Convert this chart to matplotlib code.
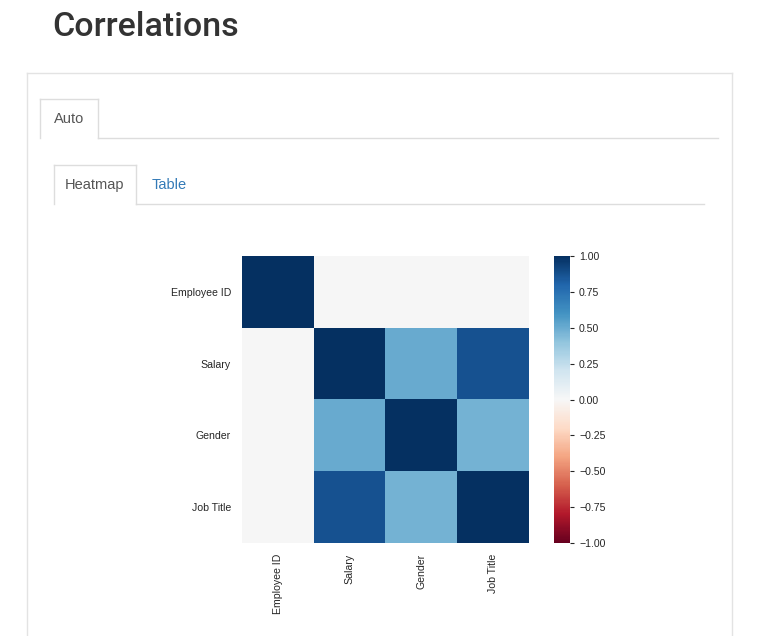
import matplotlib.pyplot as plt
from matplotlib.patches import Rectangle
from matplotlib.lines import Line2D
import numpy as np

labels = ["Employee ID", "Salary", "Gender", "Job Title"]
corr = np.array([
    [1.00, 0.00, 0.00, 0.00],
    [0.00, 1.00, 0.50, 0.87],
    [0.00, 0.50, 1.00, 0.47],
    [0.00, 0.87, 0.47, 1.00],
])
cbar_ticks = [1.00, 0.75, 0.50, 0.25, 0.00, -0.25, -0.50, -0.75, -1.00]

W, H = 768, 636
plt.rcParams['font.family'] = ['Liberation Sans', 'DejaVu Sans']
fig = plt.figure(figsize=(W / 100, H / 100), dpi=100)


def fx(x):
    return x / W


def fy(y):
    return 1 - y / H


def hline(x0, x1, y, color="#dddddd"):
    fig.add_artist(Line2D([fx(x0), fx(x1)], [fy(y), fy(y)], transform=fig.transFigure,
                          color=color, lw=1.0))


def vline(x, y0, y1, color="#dddddd"):
    fig.add_artist(Line2D([fx(x), fx(x)], [fy(y0), fy(y1)], transform=fig.transFigure,
                          color=color, lw=1.0))


# page chrome
fig.text(fx(52), fy(27), "Correlations", fontsize=24.5, color="#333333", va="center",
         ha="left", family=["Roboto", "DejaVu Sans"], fontweight="medium")

# outer card
hline(27, 732, 73, "#e3e3e3")
vline(27, 73, 640, "#e3e3e3")
vline(732, 73, 640, "#e3e3e3")

# Auto tab
hline(98, 718, 138)
vline(40, 99, 138)
vline(98, 99, 138)
hline(40, 98, 99)
fig.text(fx(69), fy(119), "Auto", fontsize=10.5, color="#555555", va="center", ha="center")

# Heatmap / Table tabs
hline(136, 704, 204)
vline(54, 165, 204)
vline(136, 165, 204)
hline(54, 136, 165)
fig.text(fx(95), fy(185), "Heatmap", fontsize=10.5, color="#555555", va="center", ha="center")
fig.text(fx(169), fy(185), "Table", fontsize=10.5, color="#337ab7", va="center", ha="center")

# heatmap
ax = fig.add_axes([fx(242), fy(543), fx(529) - fx(242), fy(256) - fy(543)])
im = ax.imshow(corr, cmap="RdBu", vmin=-1, vmax=1, aspect="auto")
ax.set_xticks(range(len(labels)))
ax.set_yticks(range(len(labels)))
ax.set_xticklabels(labels, rotation=90, fontsize=7.6, color="#262626")
ax.set_yticklabels(labels, fontsize=7.6, color="#262626")
ax.tick_params(length=0, pad=8)
for s in ax.spines.values():
    s.set_visible(False)

cax = fig.add_axes([fx(554), fy(543), fx(570) - fx(554), fy(256) - fy(543)])
cb = fig.colorbar(im, cax=cax, ticks=cbar_ticks)
cb.ax.set_yticklabels(["%.2f" % t if t >= 0 else "\u2212%.2f" % -t for t in cbar_ticks])
cb.ax.tick_params(labelsize=7.6, length=3, width=0.8, colors="#262626")
cb.outline.set_visible(False)

fig.savefig("out.png", dpi=100)
